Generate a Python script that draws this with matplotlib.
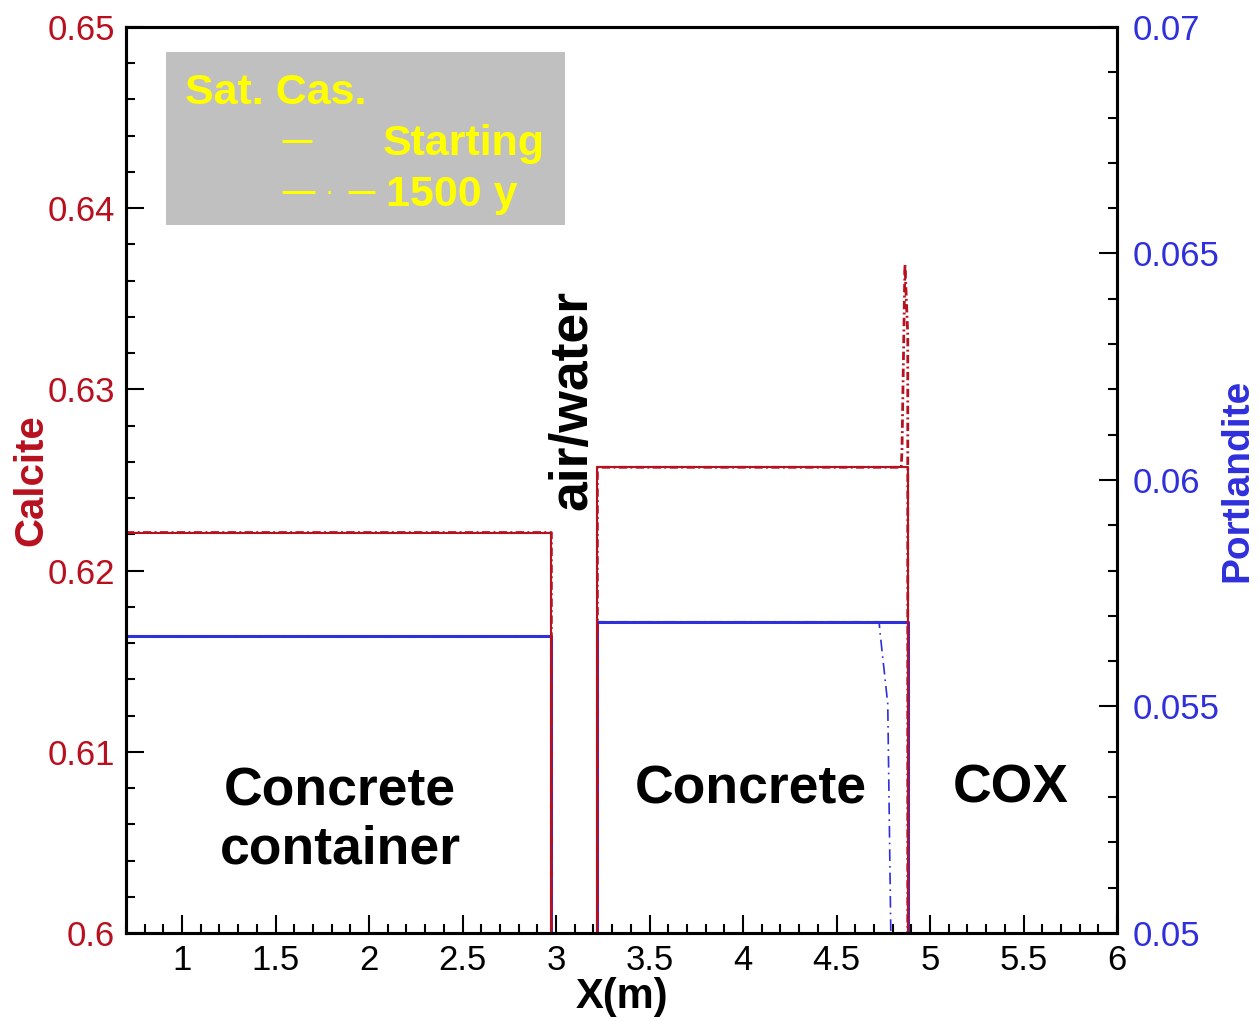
"""Calcite / portlandite profiles across the concrete container, gap and COX"""
import matplotlib
matplotlib.use('Agg')
import matplotlib.pyplot as plt
from matplotlib.ticker import MultipleLocator, FuncFormatter
from matplotlib.patches import Rectangle

plt.rcParams['font.family'] = ['Liberation Sans', 'DejaVu Sans']

RED = '#b8101e'
BLUE = '#2f2fdc'
YELLOW = '#ffff00'

# profiles along X (m)
x_start = [0.7, 2.975, 2.975, 3.221, 3.221, 4.881, 4.881, 6.0]
calcite_start = [0.6221, 0.6221, 0.0, 0.0, 0.6257, 0.6257, 0.0, 0.0]
portlandite_start = [0.05656, 0.05656, 0.0, 0.0, 0.05687, 0.05687, 0.0, 0.0]

x_calcite_1500 = [0.7, 2.975, 2.975, 3.221, 3.221, 4.846, 4.850, 4.866, 4.881, 4.881, 6.0]
calcite_1500 = [0.6221, 0.6221, 0.0, 0.0, 0.6257, 0.6257, 0.6266, 0.6369, 0.6330, 0.0, 0.0]

x_portlandite_1500 = [0.7, 2.975, 2.975, 3.221, 3.221, 4.728, 4.731, 4.774, 4.790, 4.795, 6.0]
portlandite_1500 = [0.05656, 0.05656, 0.0, 0.0, 0.05687, 0.05687, 0.0567, 0.05506, 0.0501, 0.0, 0.0]

fig = plt.figure(figsize=(12.6, 10.21), dpi=100)
ax = fig.add_axes([0.1, 0.0862, 0.7865, 0.8874])
ax2 = ax.twinx()
# red curves sit on top of the blue ones
ax.set_zorder(ax2.get_zorder() + 1)
ax.patch.set_visible(False)

ax2.plot(x_start, portlandite_start, color=BLUE, lw=2.2)
ax2.plot(x_portlandite_1500, portlandite_1500, color=BLUE, lw=1.2,
         dashes=(7, 3, 1, 3))
ax.plot(x_start, calcite_start, color=RED, lw=1.5)
ax.plot(x_calcite_1500, calcite_1500, color=RED, lw=2.0,
        dashes=(3, 1.2, 0.7, 1.2))

ax.set_xlim(0.7, 6.0)
ax.set_ylim(0.6, 0.65)
ax2.set_ylim(0.05, 0.07)

fmt = FuncFormatter(lambda v, pos: '%g' % round(v, 4))
ax.xaxis.set_major_locator(MultipleLocator(0.5))
ax.xaxis.set_minor_locator(MultipleLocator(0.1))
ax.yaxis.set_major_locator(MultipleLocator(0.01))
ax.yaxis.set_minor_locator(MultipleLocator(0.002))
ax2.yaxis.set_major_locator(MultipleLocator(0.005))
ax2.yaxis.set_minor_locator(MultipleLocator(0.001))
ax.xaxis.set_major_formatter(fmt)
ax.yaxis.set_major_formatter(fmt)
ax2.yaxis.set_major_formatter(fmt)

ax.tick_params(which='both', direction='in', top=False, right=False, width=1.5)
ax.tick_params(which='major', length=13)
ax.tick_params(which='minor', length=6.5)
ax.tick_params(axis='x', labelsize=25, pad=8)
ax.tick_params(axis='y', labelsize=25, pad=8, labelcolor=RED)
ax2.tick_params(which='both', direction='in', width=1.5)
ax2.tick_params(which='major', length=13)
ax2.tick_params(which='minor', length=6.5)
ax2.tick_params(axis='y', labelsize=25, pad=11, labelcolor=BLUE)

for a in (ax, ax2):
    for sp in a.spines.values():
        sp.set_linewidth(2.2)

ax.set_xlabel('X(m)', fontsize=30, fontweight='bold', labelpad=0)
ax.set_ylabel('Calcite', fontsize=29, fontweight='bold', color=RED, labelpad=-2)
ax2.set_ylabel('Portlandite', fontsize=28, fontweight='bold', color=BLUE, labelpad=0)

# zone labels
zone_kw = dict(fontsize=38.5, fontweight='bold', ha='center', va='center')
ax.text(1.846, 0.6062, 'Concrete\ncontainer', linespacing=1.2, **zone_kw)
ax.text(4.04, 0.6079, 'Concrete', **zone_kw)
ax.text(5.432, 0.6080, 'COX', **zone_kw)
ax.text(3.088, 0.62942, 'air/water', rotation=90, **zone_kw)

# legend box in the style of the original
box = Rectangle((0.0404, 0.7815), 0.4026, 0.1909, transform=ax.transAxes,
                facecolor='#c0c0c0', edgecolor='none', zorder=5)
ax.add_patch(box)
leg_kw = dict(transform=ax.transAxes, color=YELLOW, fontsize=31,
              fontweight='bold', va='center', zorder=6)
ax.text(0.0595, 0.9275, 'Sat. Cas.', **leg_kw)
ax.text(0.2595, 0.8712, 'Starting', **leg_kw)
ax.text(0.2625, 0.8149, '1500 y', **leg_kw)
ax.plot([0.1574, 0.1877], [0.8742, 0.8742], transform=ax.transAxes,
        color=YELLOW, lw=2.2, zorder=6, solid_capstyle='butt')
ax.plot([0.1574, 0.2513], [0.8179, 0.8179], transform=ax.transAxes,
        color=YELLOW, lw=2.2, zorder=6, dashes=(10.8, 4.2, 0.8, 5.8),
        dash_capstyle='butt')

fig.savefig('out.png', dpi=100)
